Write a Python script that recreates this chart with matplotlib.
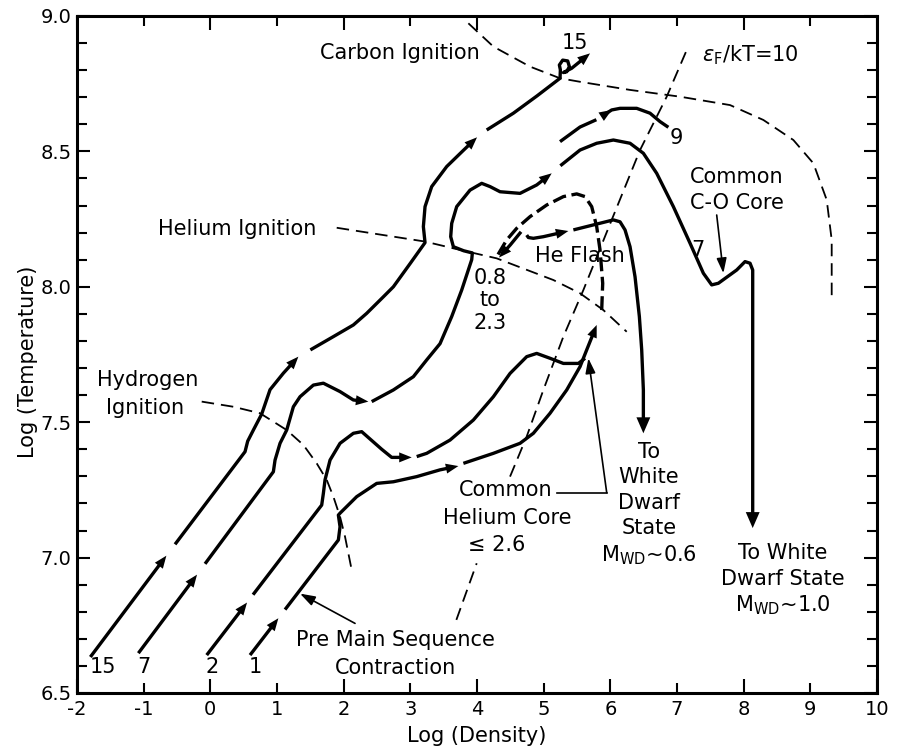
import numpy as np
import matplotlib
matplotlib.use("Agg")
import matplotlib.pyplot as plt
from matplotlib.patches import FancyArrowPatch

plt.rcParams["font.family"] = ["DejaVu Sans"]
plt.rcParams["mathtext.fontset"] = "dejavusans"
plt.rcParams["axes.unicode_minus"] = False
plt.rcParams["lines.scale_dashes"] = False

# ---------------------------------------------------------------------------
# Evolutionary tracks in the (log density, log temperature) plane.
# Each track is a list of strokes: (log_rho, log_T, arrowhead point indices).
# ---------------------------------------------------------------------------
track_15 = [
    ([-1.80, -0.66], [6.633, 7.007], [-1]),
    ([-0.53, 0.52, 0.56, 0.645, 0.77, 0.895, 1.095, 1.32],
     [7.049, 7.391, 7.43, 7.471, 7.530, 7.620, 7.681, 7.742], [-1]),
    ([1.50, 1.845, 2.145, 2.345, 2.595, 2.745, 3.0, 3.22, 3.195, 3.22, 3.32,
      3.545, 3.80, 4.00],
     [7.767, 7.816, 7.859, 7.902, 7.963, 8.0, 8.087, 8.163, 8.222, 8.296,
      8.37, 8.444, 8.505, 8.552], [-1]),
    ([4.145, 4.545, 4.90, 5.245, 5.25, 5.235, 5.285, 5.36, 5.385, 5.345,
      5.295, 5.42, 5.695],
     [8.579, 8.641, 8.705, 8.770, 8.801, 8.819, 8.837, 8.834, 8.813, 8.794,
      8.791, 8.807, 8.862], [-1]),
]

track_9 = [
    ([5.245, 5.545, 5.79], [8.536, 8.590, 8.617], []),
    ([5.90, 6.02, 6.145, 6.395, 6.595, 6.745, 6.87],
     [8.634, 8.653, 8.659, 8.659, 8.641, 8.610, 8.589], [1]),
]

track_7 = [
    ([-1.08, -0.20], [6.647, 6.937], [-1]),
    ([-0.08, 0.945, 0.97, 1.045, 1.145, 1.245, 1.345, 1.545, 1.695, 1.945,
      2.145, 2.37],
     [6.977, 7.317, 7.36, 7.422, 7.471, 7.557, 7.594, 7.637, 7.644, 7.613,
      7.582, 7.576], [-1]),
    ([2.42, 2.745, 3.045, 3.245, 3.445, 3.62, 3.77, 3.92, 3.93, 3.80, 3.645,
      3.605, 3.62, 3.695, 3.895, 4.07, 4.195, 4.345, 4.645, 4.895, 5.12],
     [7.576, 7.619, 7.668, 7.730, 7.790, 7.890, 7.988, 8.100, 8.125, 8.133,
      8.148, 8.185, 8.234, 8.296, 8.357, 8.382, 8.370, 8.351, 8.345, 8.376,
      8.419], [-1]),
    ([5.25, 5.545, 5.795, 6.045, 6.295, 6.495, 6.695, 6.945, 7.195, 7.395,
      7.52, 7.62, 7.895, 8.02, 8.095, 8.135, 8.135],
     [8.447, 8.505, 8.530, 8.542, 8.530, 8.493, 8.419, 8.296, 8.161, 8.050,
      8.007, 8.013, 8.062, 8.093, 8.087, 8.062, 7.109], []),
]

track_2 = [
    ([-0.055, 0.55], [6.640, 6.834], [-1]),
    ([0.64, 1.67, 1.695, 1.72, 1.795, 1.945, 2.145, 2.27, 2.57, 2.72, 3.02],
     [6.863, 7.194, 7.237, 7.287, 7.360, 7.422, 7.459, 7.465, 7.400, 7.370,
      7.370], [-1]),
    ([3.095, 3.245, 3.595, 3.945, 4.245, 4.495, 4.745, 4.895, 5.095, 5.295,
      5.52, 5.62],
     [7.373, 7.385, 7.434, 7.508, 7.594, 7.680, 7.742, 7.754, 7.736, 7.717,
      7.717, 7.736], []),
]

track_1 = [
    ([0.595, 1.02], [6.640, 6.776], [-1]),
    ([1.12, 1.92, 1.945, 1.92, 1.945, 2.195, 2.495, 2.745, 3.095, 3.445,
      3.72],
     [6.808, 7.065, 7.114, 7.157, 7.164, 7.225, 7.274, 7.280, 7.299, 7.324,
      7.338], [-1]),
    ([3.795, 4.245, 4.645, 4.845, 5.095, 5.345, 5.545, 5.645, 5.795],
     [7.348, 7.385, 7.422, 7.459, 7.533, 7.619, 7.705, 7.767, 7.859], [-1]),
]

# Low-mass (0.8 - 2.3) stars after the helium flash
post_flash = [
    ([4.66, 4.50, 4.33], [8.203, 8.155, 8.108], [-1]),
    ([4.745, 4.77, 4.845, 4.995, 5.37], [8.191, 8.182, 8.179, 8.185, 8.206],
     [-1]),
    ([5.445, 6.045, 6.145, 6.22, 6.295, 6.37, 6.435, 6.47, 6.495, 6.495],
     [8.210, 8.247, 8.240, 8.210, 8.148, 8.037, 7.890, 7.767, 7.619, 7.459],
     []),
]

# Helium flash excursion (heavy dashed)
flash_x = [5.87, 5.885, 5.845, 5.795, 5.72, 5.62, 5.495, 5.295, 5.045, 4.795,
           4.595, 4.445, 4.295]
flash_y = [7.914, 8.013, 8.136, 8.222, 8.296, 8.333, 8.343, 8.333, 8.302,
           8.259, 8.216, 8.173, 8.111]

# Ignition and degeneracy boundaries (light dashed)
h_ign_x = [-0.13, 0.345, 0.745, 1.145, 1.395, 1.595, 1.745, 1.845, 1.945,
           2.02, 2.12]
h_ign_y = [7.576, 7.557, 7.533, 7.471, 7.416, 7.348, 7.287, 7.225, 7.151,
           7.077, 6.954]
he_ign_x = [1.895, 2.595, 3.22, 3.645, 4.295, 5.145, 5.545, 5.895, 6.245]
he_ign_y = [8.218, 8.191, 8.167, 8.142, 8.105, 8.025, 7.976, 7.914, 7.834]
c_ign_x = [3.87, 4.245, 4.795, 5.245, 5.545, 6.295, 7.045, 7.795, 8.295,
           8.745, 9.045, 9.245, 9.32, 9.32]
c_ign_y = [8.973, 8.887, 8.813, 8.770, 8.757, 8.727, 8.702, 8.671, 8.616,
           8.542, 8.456, 8.321, 8.173, 7.963]
degen_low_x = [3.69, 3.995]
degen_low_y = [6.770, 6.979]
degen_high_x = [4.495, 4.745, 4.995, 5.295, 5.595, 6.02, 6.445, 6.845, 7.145]
degen_high_y = [7.299, 7.447, 7.619, 7.816, 7.988, 8.247, 8.505, 8.702,
                8.874]

x_major = [-2, 0, 2, 4, 6, 8, 10]
x_minor = [-1, 1, 3, 5, 7, 9]
y_major = [6.5, 7.0, 7.5, 8.0, 8.5, 9.0]
y_minor = [round(6.5 + 0.1 * i, 1) for i in range(26)]

# ---------------------------------------------------------------------------
fig = plt.figure(figsize=(9.01, 7.47), dpi=100)
ax = fig.add_axes([0.0855, 0.0723, 0.8879, 0.9063])
ax.set_xlim(-2, 10)
ax.set_ylim(6.5, 9.0)

TRACK_LW = 2.4
SMALL_HEAD = "-|>,head_length=0.9,head_width=0.36"
BIG_HEAD = "-|>,head_length=1.15,head_width=0.5"


def back_off(p_from, p_to, pts):
    """Point lying `pts` points before p_to along the p_from -> p_to line."""
    a = ax.transData.transform(p_from)
    b = ax.transData.transform(p_to)
    v = (b - a) / np.hypot(*(b - a))
    return ax.transData.inverted().transform(b - v * pts * fig.dpi / 72.0)


def head(p_from, p_to, style=SMALL_HEAD):
    ax.add_patch(FancyArrowPatch(p_from, p_to, arrowstyle=style,
                                 mutation_scale=10, lw=0, color="k",
                                 shrinkA=0, shrinkB=0, zorder=4))


def draw_strokes(strokes, final_style=None):
    for k, (xs, ys, heads) in enumerate(strokes):
        xs = list(xs)
        ys = list(ys)
        n = len(xs)
        idx = [h % n for h in heads]
        last_is_end = (k == len(strokes) - 1) and final_style is not None
        if last_is_end:
            idx.append(n - 1)
        px, py = xs[:], ys[:]
        if n - 1 in idx:
            q = back_off((xs[-2], ys[-2]), (xs[-1], ys[-1]), 4)
            px[-1], py[-1] = q
        ax.plot(px, py, color="k", lw=TRACK_LW, solid_capstyle="butt",
                solid_joinstyle="round", zorder=3)
        for i in idx:
            style = final_style if (last_is_end and i == n - 1) else SMALL_HEAD
            head((xs[i - 1], ys[i - 1]), (xs[i], ys[i]), style)


draw_strokes(track_15)
draw_strokes(track_9)
draw_strokes(track_7, final_style=BIG_HEAD)
draw_strokes(track_2)
draw_strokes(track_1)
draw_strokes(post_flash, final_style=BIG_HEAD)

ax.plot(flash_x, flash_y, color="k", lw=TRACK_LW, dashes=(10, 4), zorder=3)

thin = dict(color="k", lw=1.3, dashes=(9, 5), zorder=2)
ax.plot(h_ign_x, h_ign_y, **thin)
ax.plot(he_ign_x, he_ign_y, **thin)
ax.plot(c_ign_x, c_ign_y, **thin)
ax.plot(degen_low_x, degen_low_y, **thin)
ax.plot(degen_high_x, degen_high_y, **thin)

# Leaders from the annotations
LEADER = dict(arrowstyle="-|>,head_length=0.9,head_width=0.3", lw=1.2,
              color="k", shrinkA=0, shrinkB=0, mutation_scale=10)
ax.annotate("", xy=(1.345, 6.867), xytext=(2.17, 6.757), arrowprops=LEADER)
ax.annotate("", xy=(7.695, 8.050), xytext=(7.595, 8.265), arrowprops=LEADER)
ax.plot([5.195, 5.945], [7.240, 7.240], color="k", lw=1.2)
ax.annotate("", xy=(5.67, 7.736), xytext=(5.945, 7.240), arrowprops=LEADER)

# Labels
FS = 15
txt = dict(fontsize=FS, ha="center", va="center", color="k")
ax.text(2.845, 8.862, "Carbon Ignition", **txt)
ax.text(5.47, 8.899, "15", **txt)
ax.text(7.37, 8.856, r"$\epsilon_{\rm F}$/kT=10", fontsize=FS, ha="left",
        va="center")
ax.text(6.995, 8.548, "9", **txt)
ax.text(7.89, 8.404, "Common", **txt)
ax.text(7.90, 8.311, "C-O Core", **txt)
ax.text(7.32, 8.136, "7", **txt)
ax.text(5.545, 8.114, "He Flash", **txt)
ax.text(4.195, 8.031, "0.8", **txt)
ax.text(4.195, 7.951, "to", **txt)
ax.text(4.195, 7.865, "2.3", **txt)
ax.text(0.407, 8.213, "Helium Ignition", **txt)
ax.text(-0.935, 7.656, "Hydrogen", **txt)
ax.text(-0.98, 7.554, "Ignition", **txt)
for xm, lab in zip([-1.605, -0.995, 0.02, 0.67], ["15", "7", "2", "1"]):
    ax.text(xm, 6.597, lab, **txt)
ax.text(2.77, 6.696, "Pre Main Sequence", **txt)
ax.text(2.78, 6.591, "Contraction", **txt)
ax.text(4.43, 7.250, "Common", **txt)
ax.text(4.457, 7.145, "Helium Core", **txt)
ax.text(4.295, 7.047, "≤ 2.6", **txt)
for yv, lab in zip([7.391, 7.297, 7.200, 7.108, 7.009],
                   ["To", "White", "Dwarf", "State", r"M$_{\rm WD}$~0.6"]):
    ax.text(6.58, yv, lab, **txt)
for yv, lab in zip([7.018, 6.920, 6.825],
                   ["To White", "Dwarf State", r"M$_{\rm WD}$~1.0"]):
    ax.text(8.59, yv, lab, **txt)

fig.text(0.031, 0.516, "Log (Temperature)", rotation=90, fontsize=FS,
         ha="center", va="center")
fig.text(0.529, 0.0145, "Log (Density)", fontsize=FS, ha="center",
         va="center")

# Axes frame and ticks
for s in ax.spines.values():
    s.set_linewidth(2.2)
ax.set_xticks(x_major, [str(v) for v in x_major])
ax.set_xticks(x_minor, [str(v) for v in x_minor], minor=True)
ax.set_yticks(y_major, [f"{v:.1f}" for v in y_major])
ax.set_yticks(y_minor, minor=True)
ax.tick_params(axis="both", which="both", direction="in", top=True,
               right=True, width=1.5, labelsize=14, colors="k")
ax.tick_params(axis="x", which="major", length=10, pad=5)
ax.tick_params(axis="x", which="minor", length=7, pad=5)
ax.tick_params(axis="y", which="major", length=9.5, pad=4)
ax.tick_params(axis="y", which="minor", length=7.5)

fig.savefig("out.png", dpi=100)
